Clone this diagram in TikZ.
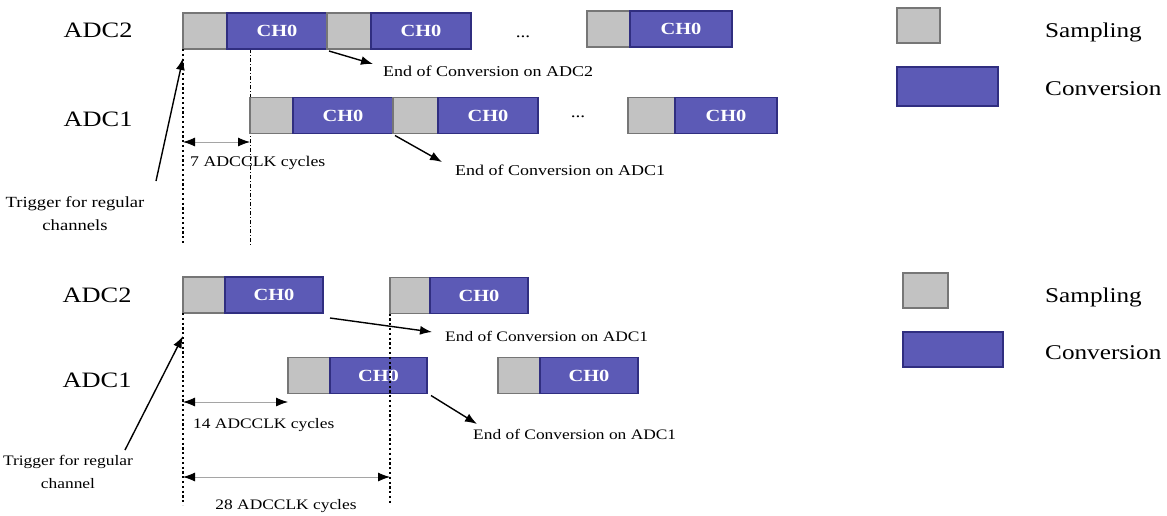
\documentclass[tikz,border=0pt]{standalone}
\usepackage{fontspec}
\setmainfont{Liberation Serif}[FakeStretch=1.2]
\usetikzlibrary{arrows.meta}

\definecolor{sampfill}{RGB}{194,194,194}
\definecolor{sampedge}{RGB}{118,118,118}
\definecolor{convfill}{RGB}{92,90,182}
\definecolor{convedge}{RGB}{48,46,128}
\definecolor{dimgray}{RGB}{165,165,165}

\newcommand{\tsize}[2]{\fontsize{#1}{#2}\selectfont}

\begin{document}
\begin{tikzpicture}[x=1pt,y=-1pt,
  seg/.style={rectangle, inner sep=0pt, outer sep=0pt, anchor=west,
              line width=1.3pt, minimum height=36},
  samp/.style={seg, fill=sampfill, draw=sampedge, minimum width=44},
  conv/.style={seg, fill=convfill, draw=convedge, minimum width=100,
               text=white, font=\tsize{17}{17}\bfseries},
  adclabel/.style={inner sep=0pt, font=\tsize{22}{22}},
  legtext/.style={inner sep=0pt, anchor=west, font=\tsize{21}{21}},
  note/.style={inner sep=0pt, anchor=west, font=\tsize{15}{15}},
  small/.style={inner sep=0pt, font=\tsize{14.5}{14.5}},
  dots/.style={inner sep=0pt, font=\tsize{16}{16}},
  ptr/.style={line width=1.4pt, -{Latex[length=12pt,width=9pt]}},
  dimarrow/.style={draw=dimgray, line width=0.8pt,
                   {Latex[length=12pt,width=9pt,black]}-{Latex[length=12pt,width=9pt,black]}},
  trigline/.style={line width=2.2pt, dash pattern=on 2.2pt off 2.6pt},
  delayline/.style={line width=1pt, dash pattern=on 4pt off 2pt on 1pt off 2pt},
]
\useasboundingbox (0,0) rectangle (1167,515);

% ================= upper timing diagram (dual regular simultaneous) =================
\coordinate (tDelayTop) at (250,49);
\coordinate (tDelayBot) at (250,245);
\draw[delayline] (tDelayTop) -- (tDelayBot);

% ADC2 row
\node[adclabel] (tADC2) at (98,30) {ADC2};
\node[samp] (t2s1) at (183,31) {};
\node[conv] (t2c1) at (t2s1.east) {CH0};
\node[samp] (t2s2) at (t2c1.east) {};
\node[conv] (t2c2) at (t2s2.east) {CH0};
\node[dots] (t2dots) at (523,37) {...};
\node[samp, minimum width=43] (t2s3) at (587,29) {};
\node[conv, minimum width=102] (t2c3) at (t2s3.east) {CH0};

% ADC1 row
\node[adclabel] (tADC1) at (98,119) {ADC1};
\node[samp, minimum width=43] (t1s1) at (250,115.5) {};
\node[conv] (t1c1) at (t1s1.east) {CH0};
\node[samp, minimum width=45] (t1s2) at (t1c1.east) {};
\node[conv] (t1c2) at (t1s2.east) {CH0};
\node[dots] (t1dots) at (578,117) {...};
\node[samp, minimum width=47] (t1s3) at (628,115.5) {};
\node[conv, minimum width=102] (t1c3) at (t1s3.east) {CH0};

% trigger
\coordinate (tTrigBot) at (183,245);
\draw[trigline] (t2s1.south west) -- (tTrigBot);
\coordinate (tTrigTail) at (156,181);
\coordinate (tTrigTip) at (183,58);
\draw[ptr] (tTrigTail) -- (tTrigTip);
\node[inner sep=0pt, align=center, font=\tsize{15.5}{23}] (tTrigText) at (75,214)
  {Trigger for regular\\channels};

% delay between the two converters
\coordinate (tDimL) at (183,142);
\coordinate (tDimR) at (250,142);
\draw[dimarrow] (tDimL) -- (tDimR);
\node[note, font=\tsize{14.8}{14.8}] (tDimText) at (190,163) {7 ADCCLK cycles};

% end of conversion marks
\node[note] (tEoc2) at (383,71) {End of Conversion on ADC2};
\coordinate (tEoc2Tip) at (373,64);
\draw[ptr] (t2c1.south east) ++(2,2) -- (tEoc2Tip);
\node[note] (tEoc1) at (455,170) {End of Conversion on ADC1};
\coordinate (tEoc1Tip) at (442,162);
\draw[ptr] (t1c1.south east) ++(2,2) -- (tEoc1Tip);

% legend
\node[samp, minimum width=43, minimum height=35] (tLegS) at (897,25.5) {};
\node[legtext] (tLegSText) at (1045,32) {Sampling};
\node[conv, minimum width=101, minimum height=39] (tLegC) at (897,86.5) {};
\node[legtext] (tLegCText) at (1045,89) {Conversion};

% ================= lower timing diagram (interleaved) =================
% ADC2 row
\node[adclabel] (bADC2) at (97,295) {ADC2};
\node[samp, minimum width=42] (b2s1) at (183,295) {};
\node[conv, minimum width=98] (b2c1) at (b2s1.east) {CH0};
\node[samp, minimum width=40] (b2s2) at (390,295.5) {};
\node[conv, minimum width=98] (b2c2) at (b2s2.east) {CH0};

% ADC1 row
\node[adclabel] (bADC1) at (97,380) {ADC1};
\node[samp, minimum width=42] (b1s1) at (288,375.5) {};
\node[conv, minimum width=97] (b1c1) at (b1s1.east) {CH0};
\node[samp, minimum width=42] (b1s2) at (498,375.5) {};
\node[conv, minimum width=98] (b1c2) at (b1s2.east) {CH0};

% trigger and second ADC2 start
\coordinate (bTrigBot) at (183,505);
\draw[trigline] (b2s1.south west) -- (bTrigBot);
\coordinate (bSecondBot) at (390,505);
\draw[trigline] (b2s2.south west) -- (bSecondBot);
\coordinate (bTrigTail) at (125,450);
\coordinate (bTrigTip) at (183,336);
\draw[ptr] (bTrigTail) -- (bTrigTip);
\node[inner sep=0pt, align=center, font=\tsize{14.5}{23}] (bTrigText) at (68,472)
  {Trigger for regular\\channel};

% delays
\coordinate (bDim1L) at (183,402);
\coordinate (bDim1R) at (288,402);
\draw[dimarrow] (bDim1L) -- (bDim1R);
\node[note, font=\tsize{14.5}{14.5}] (bDim1Text) at (193,425) {14 ADCCLK cycles};
\coordinate (bDim2L) at (183,477);
\coordinate (bDim2R) at (390,477);
\draw[dimarrow] (bDim2L) -- (bDim2R);
\node[small] (bDim2Text) at (286,506) {28 ADCCLK cycles};

% end of conversion marks
\node[note, font=\tsize{14.5}{14.5}] (bEoc2) at (445,336) {End of Conversion on ADC1};
\coordinate (bEoc2Tip) at (432,332);
\draw[ptr] (b2c1.south east) ++(7,5) -- (bEoc2Tip);
\node[note, font=\tsize{14.5}{14.5}] (bEoc1) at (473,434) {End of Conversion on ADC1};
\coordinate (bEoc1Tip) at (477,424);
\draw[ptr] (b1c1.south east) ++(4,2) -- (bEoc1Tip);

% legend
\node[samp, minimum width=45, minimum height=35] (bLegS) at (903,290.5) {};
\node[legtext] (bLegSText) at (1045,297) {Sampling};
\node[conv, minimum width=100, minimum height=35] (bLegC) at (903,349.5) {};
\node[legtext] (bLegCText) at (1045,353) {Conversion};
\end{tikzpicture}
\end{document}
